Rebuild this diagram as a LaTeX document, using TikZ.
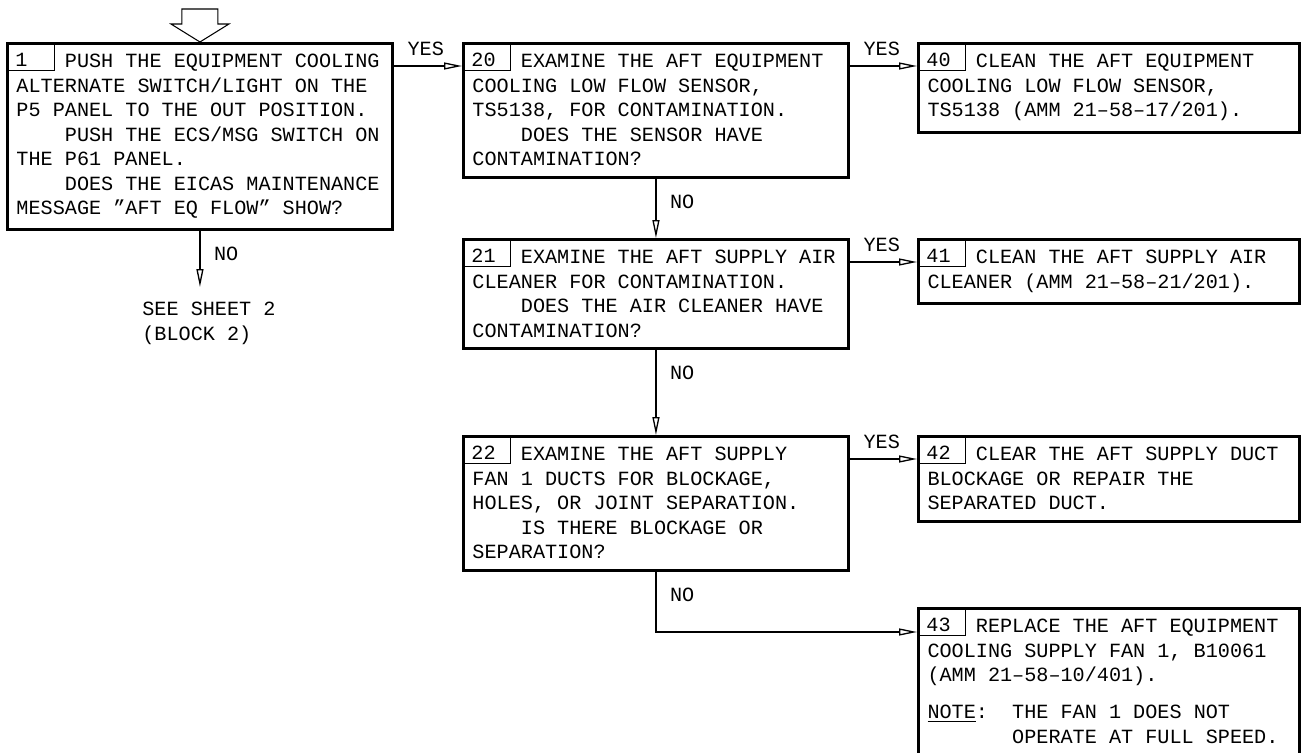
\documentclass[tikz,border=0pt]{standalone}
\usepackage{fontspec}
\setmainfont{Liberation Mono}[Ligatures=ResetAll]
\usetikzlibrary{arrows.meta}

\newcommand{\ind}{\phantom{0000}}
\DeclareRobustCommand{\boxfont}{\fontsize{11.48pt}{13.94pt}\selectfont\frenchspacing\spaceskip=0.6em\relax}

\begin{document}
\begin{tikzpicture}[x=0.02cm, y=-0.02cm,
    font=\boxfont,
    box/.style={draw, line width=1.7pt, anchor=north west, align=flush left, inner xsep=0.18cm, inner ysep=0.22cm},
    lbox/.style={box, text width=7.34cm},
    rbox/.style={box, text width=7.26cm},
    num/.style={draw, line width=0.5pt, anchor=north west, text width=0.6cm, align=flush left,
        inner xsep=0.18cm, inner ysep=0pt, minimum height=0.56cm, text height=0.4cm, text depth=0pt},
    flow/.style={line width=0.75pt, -{Triangle[open, length=0.36cm, width=0.14cm]}},
    yeslbl/.style={anchor=south west, inner sep=0pt, xshift=0.26cm, yshift=0.2cm},
    nolbl/.style={anchor=north west, inner sep=0pt, xshift=0.27cm, yshift=-0.31cm}]

    \useasboundingbox (0,0) rectangle (1301,753);

    % first column
    \node[lbox] (b1) at (6,42) {\ind PUSH THE EQUIPMENT COOLING\\
        ALTERNATE SWITCH/LIGHT ON THE\\
        P5 PANEL TO THE OUT POSITION.\\
        \ind PUSH THE ECS/MSG SWITCH ON\\
        THE P61 PANEL.\\
        \ind DOES THE EICAS MAINTENANCE\\
        MESSAGE "AFT EQ FLOW" SHOW?};
    \node[num] (n1) at (b1.north west) {1};
    \node[anchor=north west, inner sep=0pt, align=left] (see) at (142,302) {SEE SHEET 2\\(BLOCK 2)};
    \coordinate (seetop) at ([yshift=0.3cm]see.north);

    % second column
    \node[lbox] (b20) at (462,42) {\ind EXAMINE THE AFT EQUIPMENT\\
        COOLING LOW FLOW SENSOR,\\
        TS5138, FOR CONTAMINATION.\\
        \ind DOES THE SENSOR HAVE\\
        CONTAMINATION?};
    \node[num] (n20) at (b20.north west) {20};

    \node[lbox] (b21) at (462,238) {\ind EXAMINE THE AFT SUPPLY AIR\\
        CLEANER FOR CONTAMINATION.\\
        \ind DOES THE AIR CLEANER HAVE\\
        CONTAMINATION?};
    \node[num] (n21) at (b21.north west) {21};

    \node[lbox] (b22) at (462,435) {\ind EXAMINE THE AFT SUPPLY\\
        FAN 1 DUCTS FOR BLOCKAGE,\\
        HOLES, OR JOINT SEPARATION.\\
        \ind IS THERE BLOCKAGE OR\\
        SEPARATION?};
    \node[num] (n22) at (b22.north west) {22};

    % third column
    \node[rbox] (b40) at (917,42) {\ind CLEAN THE AFT EQUIPMENT\\
        COOLING LOW FLOW SENSOR,\\
        TS5138 (AMM 21–58–17/201).};
    \node[num] (n40) at (b40.north west) {40};

    \node[rbox] (b41) at (917,238) {\ind CLEAN THE AFT SUPPLY AIR\\
        CLEANER (AMM 21–58–21/201).};
    \node[num] (n41) at (b41.north west) {41};

    \node[rbox] (b42) at (917,435) {\ind CLEAR THE AFT SUPPLY DUCT\\
        BLOCKAGE OR REPAIR THE\\
        SEPARATED DUCT.};
    \node[num] (n42) at (b42.north west) {42};

    \node[rbox] (b43) at (917,607) {\ind REPLACE THE AFT EQUIPMENT\\
        COOLING SUPPLY FAN 1, B10061\\
        (AMM 21–58–10/401).\\[0.25cm]
        \underline{NOTE}:\phantom{00}THE FAN 1 DOES NOT\\
        \phantom{0000000}OPERATE AT FULL SPEED.};
    \node[num] (n43) at (b43.north west) {43};

    % entry arrow
    \draw[line width=0.6pt] (b1.north) -- ++(-29,-18) -- ++(11,0) -- ++(0,-15)
        -- ++(36,0) -- ++(0,15) -- ++(11,0) -- cycle;

    % connectors
    \draw[flow] ([yshift=-0.48cm]b1.north east) node[yeslbl] {YES} -- ([yshift=-0.48cm]b20.north west);
    \draw[flow] (b1.south) node[nolbl] {NO} -- (b1.south |- seetop);
    \draw[flow] ([yshift=-0.48cm]b20.north east) node[yeslbl] {YES} -- ([yshift=-0.48cm]b40.north west);
    \draw[flow] (b20.south) node[nolbl] {NO} -- (b21.north);
    \draw[flow] ([yshift=-0.48cm]b21.north east) node[yeslbl] {YES} -- ([yshift=-0.48cm]b41.north west);
    \draw[flow] (b21.south) node[nolbl] {NO} -- (b22.north);
    \draw[flow] ([yshift=-0.48cm]b22.north east) node[yeslbl] {YES} -- ([yshift=-0.48cm]b42.north west);
    \draw[flow] (b22.south) node[nolbl] {NO} |- ([yshift=-0.5cm]b43.north west);
\end{tikzpicture}
\end{document}
